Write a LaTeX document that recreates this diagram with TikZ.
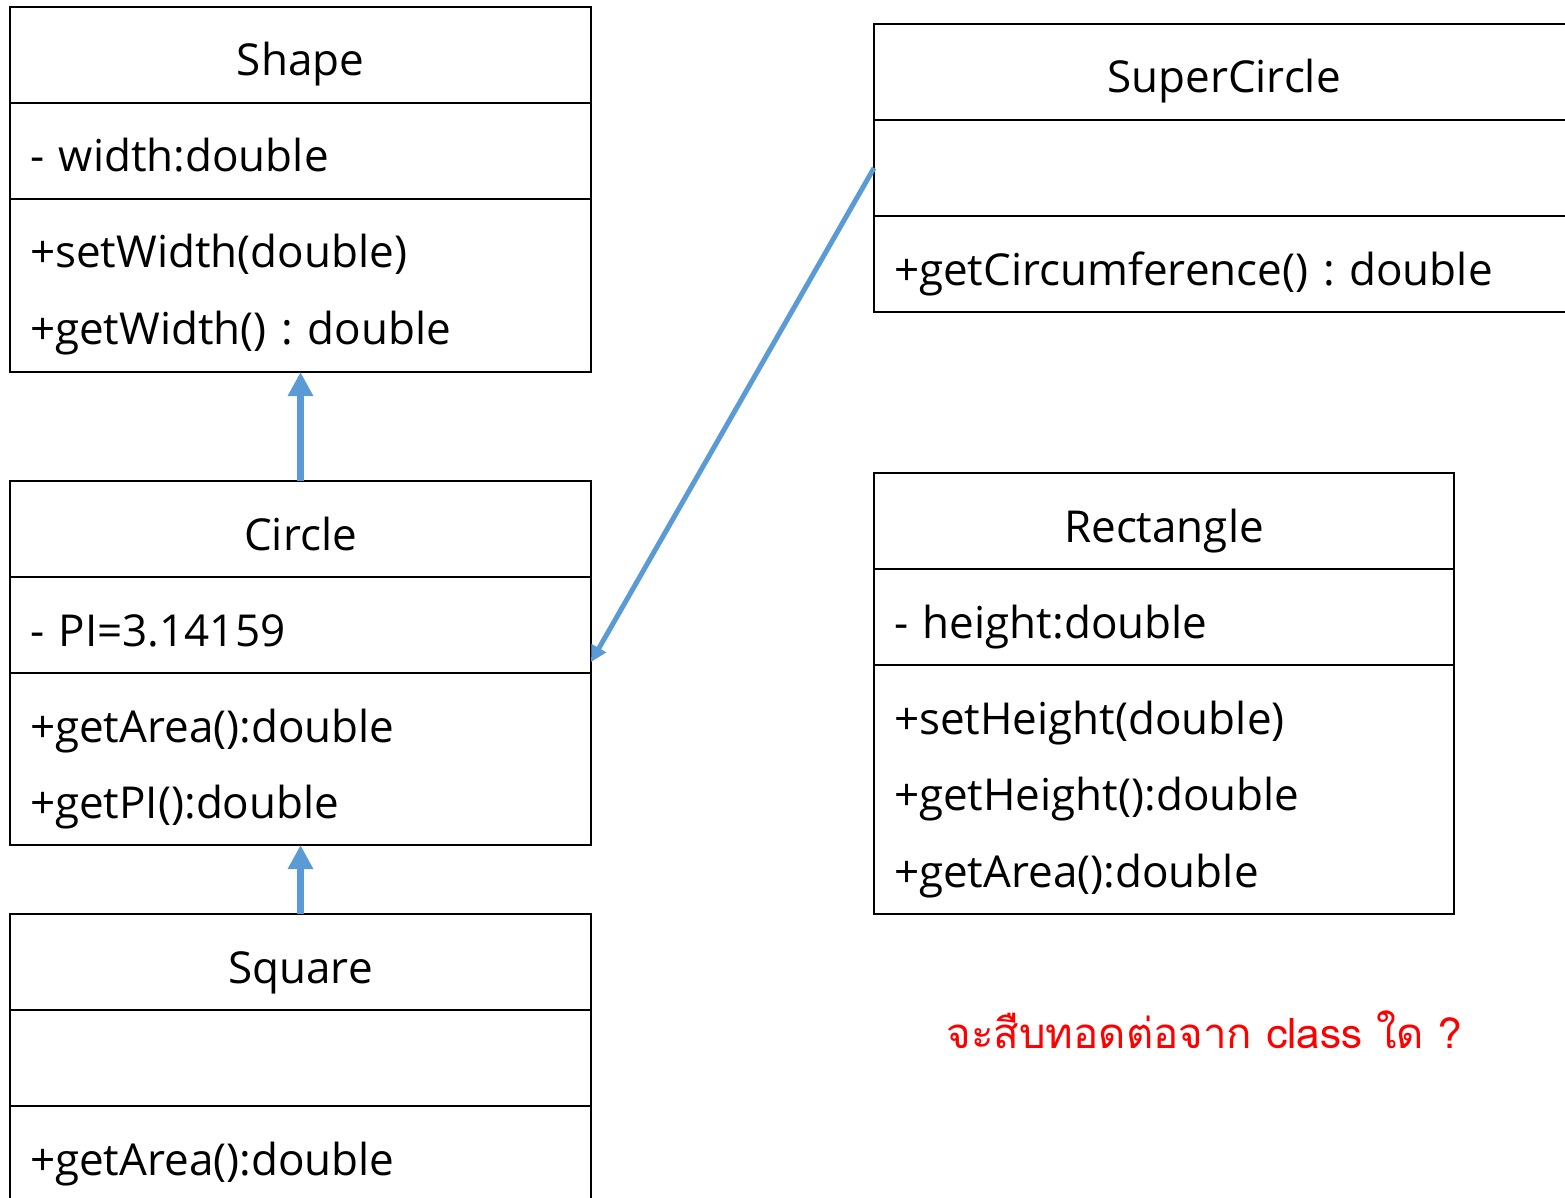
\documentclass[tikz,border=0pt]{standalone}
\usepackage{fontspec}
\setmainfont{Open Sans}
\newfontfamily\thaifont[Script=Thai]{Loma}
\frenchspacing
\usetikzlibrary{positioning,arrows.meta}
\definecolor{linkblue}{RGB}{91,155,213}

\begin{document}
\begin{tikzpicture}[x = 1pt, y = -1pt, font = \fontsize{44}{76.5}\selectfont,
	classrow/.style = {draw, line width = 2pt, outer sep = 0pt, text width = 541pt, inner xsep = 20pt, inner ysep = 0pt, text height = 69pt, text depth = 27pt, align = left, anchor = north west},
	classname/.style = {classrow, align = center},
	inherit/.style = {draw = linkblue, line width = 7pt, -{Triangle[length = 24pt, width = 24pt]}}]

	\useasboundingbox (0, 0) rectangle (1565, 1198);
	\clip (0, 0) rectangle (1565, 1198);

	% Shape

	\node (shapename) [classname] at (10, 7) {Shape};
	\node (shapeattr) [classrow, below = 0pt of shapename] {- width:double};
	\node (shapeop) [classrow, text depth = 104pt, below = 0pt of shapeattr] {+setWidth(double)\\+getWidth() : double};

	% Circle

	\node (circlename) [classname] at (10, 481) {Circle};
	\node (circleattr) [classrow, below = 0pt of circlename] {- PI=3.14159};
	\node (circleop) [classrow, text depth = 103pt, below = 0pt of circleattr] {+getArea():double\\+getPI():double};

	% Square

	\node (squarename) [classname] at (10, 914) {Square};
	\node (squareattr) [classrow, below = 0pt of squarename] {};
	\node (squareop) [classrow, below = 0pt of squareattr] {+getArea():double};

	% SuperCircle

	\node (supername) [classname, text width = 660pt] at (874, 24) {SuperCircle};
	\node (superattr) [classrow, text width = 660pt, below = 0pt of supername] {};
	\node (superop) [classrow, text width = 660pt, below = 0pt of superattr] {+getCircumference() : double};

	% Rectangle

	\node (rectname) [classname, text width = 540pt] at (874, 473) {Rectangle};
	\node (rectattr) [classrow, text width = 540pt, below = 0pt of rectname] {- height:double};
	\node (rectop) [classrow, text width = 540pt, text depth = 180pt, below = 0pt of rectattr] {+setHeight(double)\\+getHeight():double\\+getArea():double};

	% Question

	\node (question) [anchor = base, text = red, font = \fontsize{42}{50}\thaifont] at (1204, 1048) {จะสืบทอดต่อจาก class ใด ?};

	% Inheritance arrows

	\draw [inherit] (circlename.north) -- (shapeop.south);
	\draw [inherit] (squarename.north) -- (circleop.south);

	\coordinate (circlehit) at ([yshift = 11pt] circleattr.south east);
	\draw [inherit, line width = 5pt, -{Triangle[length = 16pt, width = 16pt]}] (superattr.west) -- (circlehit);

\end{tikzpicture}
\end{document}
